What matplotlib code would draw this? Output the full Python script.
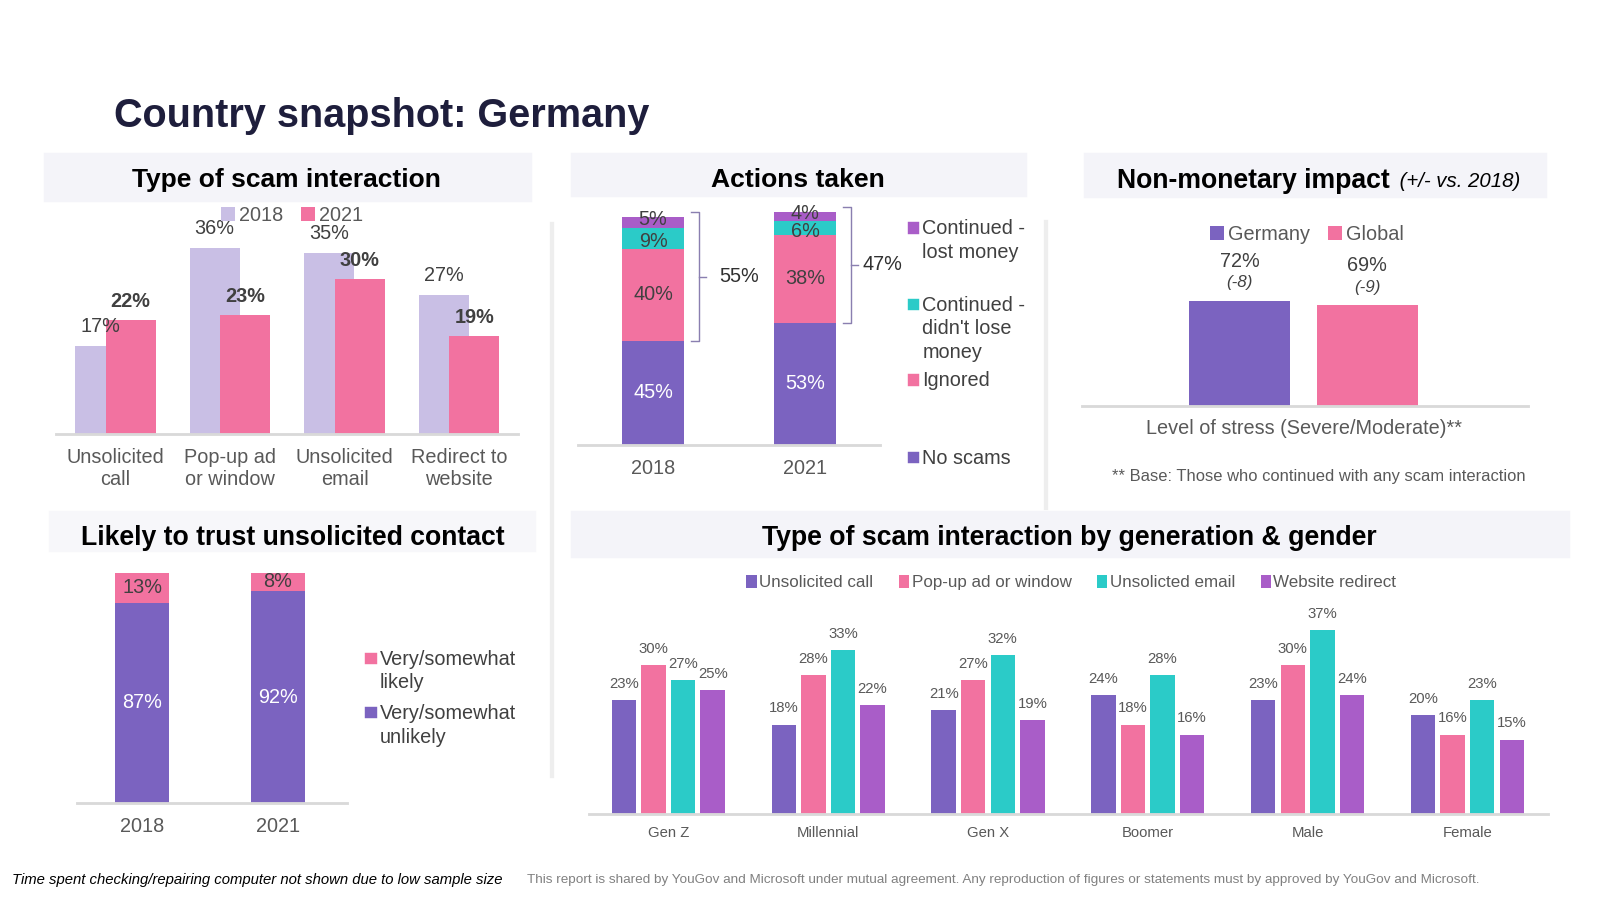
import matplotlib
matplotlib.use("Agg")
import matplotlib.pyplot as plt
from matplotlib.patches import Rectangle
from matplotlib.lines import Line2D
import numpy as np

plt.rcParams['font.family'] = ['Liberation Sans', 'DejaVu Sans']

# ---- data ----
scam_types = ['Unsolicited\ncall', 'Pop-up ad\nor window', 'Unsolicited\nemail', 'Redirect to\nwebsite']
scam_2018 = [17, 36, 35, 27]
scam_2021 = [22, 23, 30, 19]

action_years = ['2018', '2021']
no_scams = [45, 53]
ignored = [40, 38]
cont_kept = [9, 6]
cont_lost = [5, 4]
action_brackets = ['55%', '47%']

stress_groups = ['Germany', 'Global']
stress_vals = [72, 69]
stress_change = ['(-8)', '(-9)']

trust_years = ['2018', '2021']
trust_unlikely = [87, 92]
trust_likely = [13, 8]

gen_groups = ['Gen Z', 'Millennial', 'Gen X', 'Boomer', 'Male', 'Female']
gen_series = ['Unsolicited call', 'Pop-up ad or window', 'Unsolicted email', 'Website redirect']
gen_call = [23, 18, 21, 24, 23, 20]
gen_popup = [30, 28, 27, 18, 30, 16]
gen_email = [27, 33, 32, 28, 37, 23]
gen_redirect = [25, 22, 19, 16, 24, 15]

# ---- style ----
PURPLE = '#7b63c0'
PINK = '#f272a0'
LAVENDER = '#c9bfe5'
TEAL = '#2bcbc8'
VIOLET = '#a95dc8'
TXT = '#404040'
TICK = '#595959'
HEAD_BG = '#f4f4f9'

# layout is measured on a 1568x882 grid, saved at 1600x900
W, H = 1568, 882
fig = plt.figure(figsize=(15.68, 8.82), dpi=1600 / 15.68)


def px_axes(l, t, r, b):
    ax = fig.add_axes([l / W, 1 - b / H, (r - l) / W, (b - t) / H])
    ax.set_facecolor('none')
    for s in ['top', 'left', 'right']:
        ax.spines[s].set_visible(False)
    ax.spines['bottom'].set_color('#d9d9d9')
    ax.spines['bottom'].set_linewidth(2)
    ax.set_yticks([])
    ax.tick_params(axis='x', length=0)
    return ax


def header(l, t, r, b, color=HEAD_BG):
    fig.patches.append(Rectangle((l / W, 1 - b / H), (r - l) / W, (b - t) / H,
                                 transform=fig.transFigure, color=color, zorder=0))


def ftext(x, y, s, **kw):
    fig.text(x / W, 1 - y / H, s, **kw)


def legend_item(x, y, color, text, size=14):
    fig.patches.append(Rectangle((x / W, 1 - (y + 5) / H), 10 / W, 10 / H,
                                 transform=fig.transFigure, color=color))
    ftext(x + 14, y - 8, text, fontsize=size, color=TXT, va='top', linespacing=1.3)


def pts(px):
    return px * 0.72


# title
ftext(112, 114, 'Country snapshot: Germany', fontsize=28, fontweight='bold',
      color='#1e1e3c', va='center')

# separators
for x, y0, y1 in [(541, 220, 760), (1025, 218, 498)]:
    fig.lines.append(Line2D([x / W, x / W], [1 - y0 / H, 1 - y1 / H],
                            transform=fig.transFigure, color='#eeeeee', lw=3))

# ---- panel 1: type of scam interaction ----
header(43, 150, 520, 197)
ftext(281, 176, 'Type of scam interaction', fontsize=18.6, fontweight='bold', ha='center', va='center')
ax1 = px_axes(55, 200, 508, 425)
x = np.arange(len(scam_types))
b18 = ax1.bar(x - 0.133, scam_2018, width=0.436, color=LAVENDER, label='2018', zorder=1)
b21 = ax1.bar(x + 0.133, scam_2021, width=0.436, color=PINK, label='2021', zorder=2)
for i in range(len(x)):
    ax1.annotate(f'{scam_2018[i]}%', (x[i] - 0.133, scam_2018[i]), xytext=(0, pts(19)),
                 textcoords='offset points', ha='center', va='center', fontsize=14, color=TXT, zorder=3)
    ax1.annotate(f'{scam_2021[i]}%', (x[i] + 0.133, scam_2021[i]), xytext=(0, pts(18)),
                 textcoords='offset points', ha='center', va='center', fontsize=14, color=TXT,
                 fontweight='bold', zorder=3)
ax1.set_xlim(-0.516, 3.516)
ax1.set_ylim(0, 44.55)
ax1.set_xticks(x)
ax1.set_xticklabels(scam_types, fontsize=14, color=TICK, linespacing=1.24)
ax1.tick_params(axis='x', pad=10)
ax1.legend(loc='center', bbox_to_anchor=(286 / W, 1 - 211 / H), bbox_transform=fig.transFigure,
           ncol=2, frameon=False, fontsize=14, handlelength=0.7, handleheight=0.7,
           handletextpad=0.2, columnspacing=0.9, labelcolor=TICK)

# ---- panel 2: actions taken ----
header(560, 150, 1005, 192)
ftext(782, 176, 'Actions taken', fontsize=18.7, fontweight='bold', ha='center', va='center')
ax2 = px_axes(566, 200, 862, 436)
xa = np.arange(len(action_years))
segs = [(no_scams, PURPLE, 'white'), (ignored, PINK, TXT), (cont_kept, TEAL, TXT), (cont_lost, VIOLET, TXT)]
nudge = [0, 0, -1.3, 1.3]  # small vertical nudge for the two thin top segments
bottom = np.zeros(2)
for k, (vals, col, tc) in enumerate(segs):
    ax2.bar(xa, vals, width=0.403, bottom=bottom, color=col)
    for i in range(2):
        ax2.text(xa[i], bottom[i] + vals[i] / 2 + nudge[k], f'{vals[i]}%', ha='center', va='center',
                 fontsize=14, color=tc)
    bottom = bottom + np.array(vals)
label_gap = [20, 11]
for i in range(2):
    lo = no_scams[i]
    hi = bottom[i] + 2
    x0 = xa[i] + 0.2 + 7 / 149
    x1 = x0 + 8 / 149
    mid = (lo + hi) / 2
    ax2.plot([x0, x1, x1, x0], [lo, lo, hi, hi], color='#8a7fb0', lw=1, clip_on=False)
    ax2.plot([x1, x1 + 7 / 149], [mid, mid], color='#8a7fb0', lw=1, clip_on=False)
    ax2.text(x1 + label_gap[i] / 149, mid, action_brackets[i], ha='left', va='center',
             fontsize=14, color='#303030')
ax2.set_xlim(-0.497, 1.49)
ax2.set_ylim(0, 104.4)
ax2.set_xticks(xa)
ax2.set_xticklabels(action_years, fontsize=14, color=TICK)
ax2.tick_params(axis='x', pad=10)
legend_item(890, 223, VIOLET, 'Continued -\nlost money')
legend_item(890, 298, TEAL, 'Continued -\ndidn\'t lose\nmoney')
legend_item(890, 372, PINK, 'Ignored')
legend_item(890, 448, PURPLE, 'No scams')

# ---- panel 3: non-monetary impact ----
header(1062, 150, 1515, 193)
ftext(1362, 177, 'Non-monetary impact', fontsize=18.8, fontweight='bold', ha='right', va='center')
ftext(1366, 178, ' (+/- vs. 2018)', fontsize=14.4, fontstyle='italic', ha='left', va='center')
ax3 = px_axes(1060, 240, 1497, 398)
xs = np.arange(len(stress_groups))
bars3 = ax3.bar(xs, stress_vals, width=0.79, color=[PURPLE, PINK])
for i in range(2):
    ax3.annotate(f'{stress_vals[i]}%', (xs[i], stress_vals[i]), xytext=(0, pts(39)),
                 textcoords='offset points', ha='center', va='center', fontsize=14, color=TXT)
    ax3.annotate(stress_change[i], (xs[i], stress_vals[i]), xytext=(0, pts(18)),
                 textcoords='offset points', ha='center', va='center', fontsize=12,
                 fontstyle='italic', color=TXT)
ax3.set_xlim(-1.24, 2.256)
ax3.set_ylim(0, 110.5)
ax3.set_xticks([])
ftext(1278, 420, 'Level of stress (Severe/Moderate)**', fontsize=14, color=TICK, ha='center', va='center')
ftext(1292, 467, '** Base: Those who continued with any scam interaction', fontsize=11.7,
      color=TICK, ha='center', va='center')
for i in range(2):
    bars3[i].set_label(stress_groups[i])
ax3.legend(loc='center', bbox_to_anchor=(1281 / W, 1 - 230 / H), bbox_transform=fig.transFigure,
           ncol=2, frameon=False, fontsize=14, handlelength=0.7, handleheight=0.7,
           handletextpad=0.2, columnspacing=0.9, labelcolor=TICK)

# ---- panel 4: trust ----
header(48, 501, 524, 540, color='#f7f7fa')
ftext(287, 527, 'Likely to trust unsolicited contact', fontsize=18.8, fontweight='bold', ha='center', va='center')
ax4 = px_axes(75, 555, 340, 787)
xt = np.arange(len(trust_years))
ax4.bar(xt, trust_unlikely, width=0.4, color=PURPLE)
ax4.bar(xt, trust_likely, width=0.4, bottom=trust_unlikely, color=PINK)
for i in range(2):
    ax4.text(xt[i], trust_unlikely[i] / 2, f'{trust_unlikely[i]}%', ha='center', va='center',
             fontsize=14, color='white')
    ax4.text(xt[i], trust_unlikely[i] + trust_likely[i] / 2, f'{trust_likely[i]}%', ha='center',
             va='center', fontsize=14, color=TXT)
ax4.set_xlim(-0.485, 1.508)
ax4.set_ylim(0, 102.7)
ax4.set_xticks(xt)
ax4.set_xticklabels(trust_years, fontsize=14, color=TICK)
ax4.tick_params(axis='x', pad=10)
legend_item(358, 645, PINK, 'Very/somewhat\nlikely')
legend_item(358, 698, PURPLE, 'Very/somewhat\nunlikely')

# ---- panel 5: by generation & gender ----
header(560, 501, 1538, 546)
ftext(1048, 527, 'Type of scam interaction by generation & gender', fontsize=18.8,
      fontweight='bold', ha='center', va='center')
ax5 = px_axes(577, 590, 1517, 798)
xg = np.arange(len(gen_groups))
pitch = 0.185
for k, (vals, col) in enumerate(zip([gen_call, gen_popup, gen_email, gen_redirect],
                                    [PURPLE, PINK, TEAL, VIOLET])):
    xpos = xg + (k - 1.5) * pitch
    ax5.bar(xpos, vals, width=0.153, color=col, label=gen_series[k])
    for xi, v in zip(xpos, vals):
        ax5.annotate(f'{v}%', (xi, v), xytext=(0, pts(16)), textcoords='offset points',
                     ha='center', va='center', fontsize=10.5, color=TICK)
ax5.set_xlim(-0.498, 5.504)
ax5.set_ylim(0, 42.7)
ax5.set_xticks(xg)
ax5.set_xticklabels(gen_groups, fontsize=10.5, color=TICK)
ax5.tick_params(axis='x', pad=8)
ax5.legend(loc='center', bbox_to_anchor=(1050 / W, 1 - 571 / H), bbox_transform=fig.transFigure,
           ncol=4, frameon=False, fontsize=12, handlelength=0.6, handleheight=0.8,
           handletextpad=0.15, columnspacing=1.5, labelcolor=TICK)

# ---- footer ----
ftext(12, 862, 'Time spent checking/repairing computer not shown due to low sample size',
      fontsize=10.5, fontstyle='italic', color='black', va='center')
ftext(516, 862, 'This report is shared by YouGov and Microsoft under mutual agreement. Any reproduction '
      'of figures or statements must by approved by YouGov and Microsoft.',
      fontsize=9.5, color='#808080', va='center')

fig.savefig('out.png', dpi=fig.dpi, facecolor='white')
